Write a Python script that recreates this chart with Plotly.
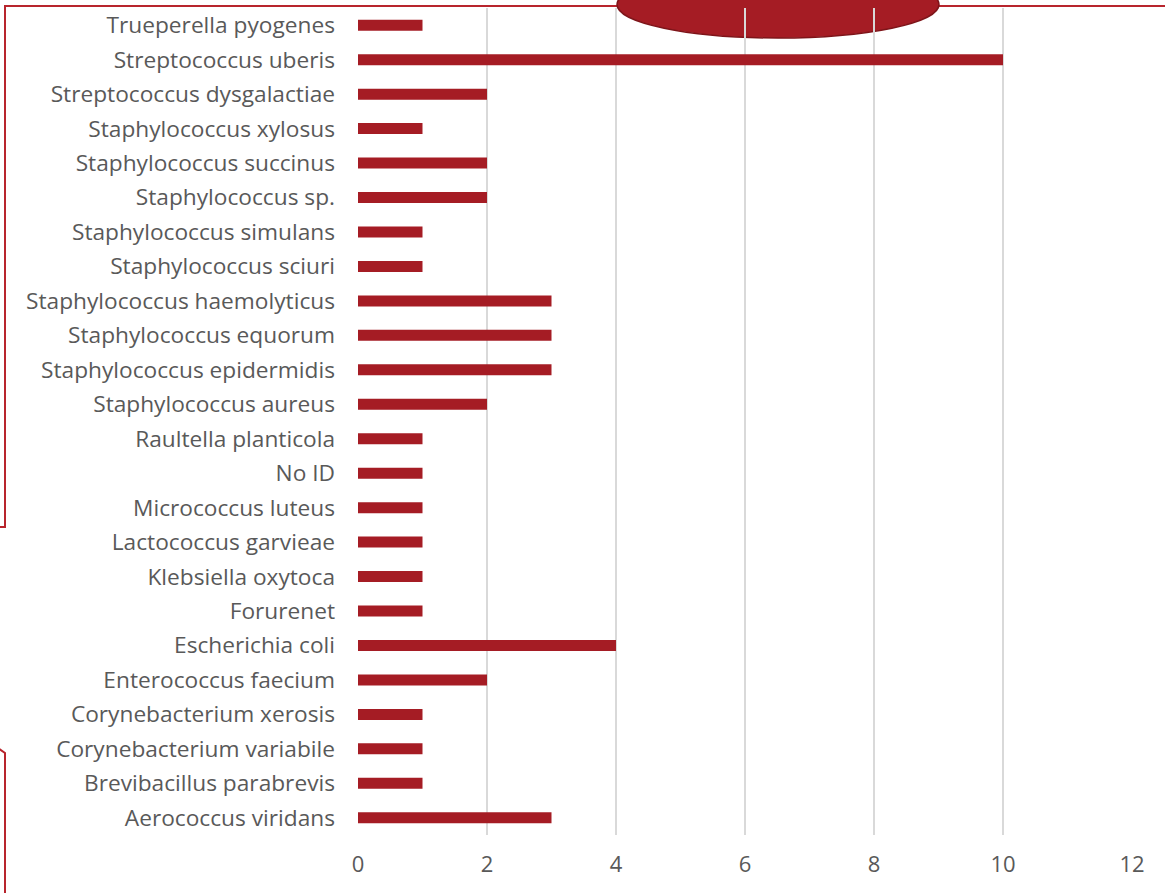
import plotly.graph_objects as go

# Isolates per species (bottom to top as drawn)
species = [
    "Aerococcus viridans",
    "Brevibacillus parabrevis",
    "Corynebacterium variabile",
    "Corynebacterium xerosis",
    "Enterococcus faecium",
    "Escherichia coli",
    "Forurenet",
    "Klebsiella oxytoca",
    "Lactococcus garvieae",
    "Micrococcus luteus",
    "No ID",
    "Raultella planticola",
    "Staphylococcus aureus",
    "Staphylococcus epidermidis",
    "Staphylococcus equorum",
    "Staphylococcus haemolyticus",
    "Staphylococcus sciuri",
    "Staphylococcus simulans",
    "Staphylococcus sp.",
    "Staphylococcus succinus",
    "Staphylococcus xylosus",
    "Streptococcus dysgalactiae",
    "Streptococcus uberis",
    "Trueperella pyogenes",
]
counts = [3, 1, 1, 1, 2, 4, 1, 1, 1, 1, 1, 1, 2, 3, 3, 3, 1, 1, 2, 2, 1, 2, 10, 1]
x_ticks = [0, 2, 4, 6, 8, 10, 12]

BAR = "#A51C24"
FRAME = "#B8252D"
TEXT = "#595959"

W, H = 1165, 893
ML, MR, MT, MB = 358, 33, 8, 58
PW, PH = W - ML - MR, H - MT - MB


def px(x):
    return (x - ML) / PW


def py(y):
    return (H - MB - y) / PH


fig = go.Figure(
    go.Bar(
        x=counts,
        y=species,
        orientation="h",
        marker=dict(color=BAR, line=dict(width=0)),
        width=0.32,
    )
)

shapes = [
    # frame: top edge and left edge
    dict(
        type="path", xref="paper", yref="paper", layer="below",
        path=f"M {px(1170)},{py(6)} L {px(5)},{py(6)} L {px(5)},{py(527)} L {px(-2)},{py(527)}",
        line=dict(color=FRAME, width=2),
    ),
    # frame: lower left corner
    dict(
        type="path", xref="paper", yref="paper", layer="below",
        path=f"M {px(-2)},{py(748)} L {px(5)},{py(753)} L {px(5)},{py(900)}",
        line=dict(color=FRAME, width=2),
    ),
    # decorative ellipse at the top edge, over the frame line
    dict(
        type="circle", xref="paper", yref="paper", layer="below",
        x0=px(617), x1=px(939), y0=py(-29), y1=py(38),
        fillcolor="#A51C24", line=dict(color="#7E1419", width=1.5),
    ),
]

fig.update_layout(
    width=W,
    height=H,
    margin=dict(l=ML, r=MR, t=MT, b=MB),
    paper_bgcolor="white",
    plot_bgcolor="white",
    showlegend=False,
    bargap=0.68,
    font=dict(family="Open Sans, Noto Sans, sans-serif", size=22, color=TEXT),
    shapes=shapes,
    xaxis=dict(
        range=[0, 12],
        tickvals=x_ticks,
        showgrid=True,
        gridcolor="#D9D9D9",
        gridwidth=1.5,
        zeroline=False,
        showline=False,
        ticks="",
        ticklabelstandoff=14,
        tickfont=dict(size=22, color=TEXT),
    ),
    yaxis=dict(
        categoryorder="array",
        categoryarray=species,
        showgrid=False,
        showline=False,
        ticks="",
        ticklabelstandoff=22,
        tickfont=dict(size=22.7, color=TEXT),
    ),
)

fig.write_html("out.html")
